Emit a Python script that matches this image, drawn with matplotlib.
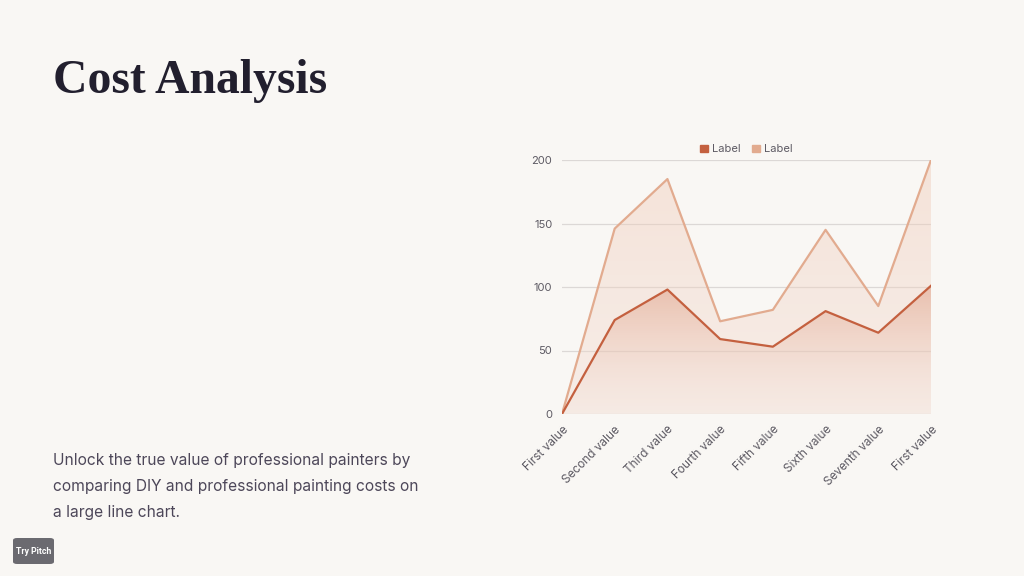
import matplotlib.pyplot as plt
import numpy as np
from matplotlib.patches import FancyBboxPatch, Patch
from matplotlib.colors import LinearSegmentedColormap

# data
categories = ['First value', 'Second value', 'Third value', 'Fourth value',
              'Fifth value', 'Sixth value', 'Seventh value', 'First value']
diy = [0, 74, 98, 59, 53, 81, 64, 101]
pro = [0, 146, 185, 73, 82, 145, 85, 200]
series_names = ['Label', 'Label']
yticks = [0, 50, 100, 150, 200]

bg = '#f9f7f4'
dark = '#c4603f'
light = '#e2ab8f'

fig = plt.figure(figsize=(10.24, 5.76), dpi=100, facecolor=bg)

# title and body text
fig.text(53 / 1024, 1 - 81 / 576, 'Cost Analysis', fontsize=34.3, fontweight='bold',
         family='Liberation Serif', color='#221f2e', va='center', ha='left')
body = ('Unlock the true value of professional painters by\n'
        'comparing DIY and professional painting costs on\n'
        'a large line chart.')
fig.text(53 / 1024, 1 - 453 / 576, body, fontsize=11.2, family='Inter', color='#4d4759',
         va='top', ha='left', linespacing=1.9)

# "Try Pitch" badge
badge = FancyBboxPatch((13 / 1024, 1 - 564 / 576), 41 / 1024, 26 / 576,
                       boxstyle='round,pad=0,rounding_size=0.004',
                       transform=fig.transFigure, facecolor='#6b6a70', edgecolor='none')
fig.patches.append(badge)
fig.text(33.5 / 1024, 1 - 551 / 576, 'Try Pitch', fontsize=6.3, fontweight='bold',
         color='white', ha='center', va='center', family='Roboto')

ax = fig.add_axes([562 / 1024, 1 - 414 / 576, 369 / 1024, 254 / 576])
ax.set_facecolor(bg)
x = np.arange(len(categories))


def gradient_fill(ax, x, y, top_color, bot_color, z):
    poly = ax.fill_between(x, y, 0, color='none', linewidth=0)
    cmap = LinearSegmentedColormap.from_list('g', [bot_color, top_color])
    grad = np.linspace(0, 1, 256).reshape(-1, 1)
    im = ax.imshow(grad, extent=[x[0], x[-1], 0, max(y)], origin='lower', aspect='auto',
                   cmap=cmap, zorder=z)
    path = poly.get_paths()[0]
    im.set_clip_path(path, transform=ax.transData)


gradient_fill(ax, x, pro, (0.94, 0.78, 0.70, 0.42), (0.95, 0.86, 0.82, 0.35), 1)
gradient_fill(ax, x, diy, (0.88, 0.62, 0.52, 0.55), (0.95, 0.85, 0.80, 0.1), 2)

ax.plot(x, pro, color=light, lw=1.6, zorder=3)
ax.plot(x, diy, color=dark, lw=1.6, zorder=4)

ax.set_xlim(x[0], x[-1])
ax.set_ylim(0, 200)
ax.set_yticks(yticks)
ax.set_xticks(x)
ax.set_xticklabels(categories, rotation=45, ha='right', rotation_mode='anchor',
                   family='Inter')
for lab in ax.get_yticklabels():
    lab.set_family('Inter')
ax.tick_params(axis='both', length=0, labelsize=8.5, labelcolor='#5d5a63', pad=7)
ax.tick_params(axis='y', labelsize=8)
ax.grid(axis='y', color='#dcd8d6', lw=0.9)
ax.set_axisbelow(True)
for s in ax.spines.values():
    s.set_visible(False)

handles = [Patch(color=dark), Patch(color=light)]
ax.legend(handles, series_names, loc='lower center', bbox_to_anchor=(0.5, 1.0), ncol=2,
          frameon=False, prop={'family': 'Inter', 'size': 8}, handlelength=0.7,
          handleheight=0.7, handletextpad=0.4, columnspacing=1.0, labelcolor='#5d5a63',
          borderaxespad=0.1)

fig.savefig('out.png', dpi=100, facecolor=bg)
